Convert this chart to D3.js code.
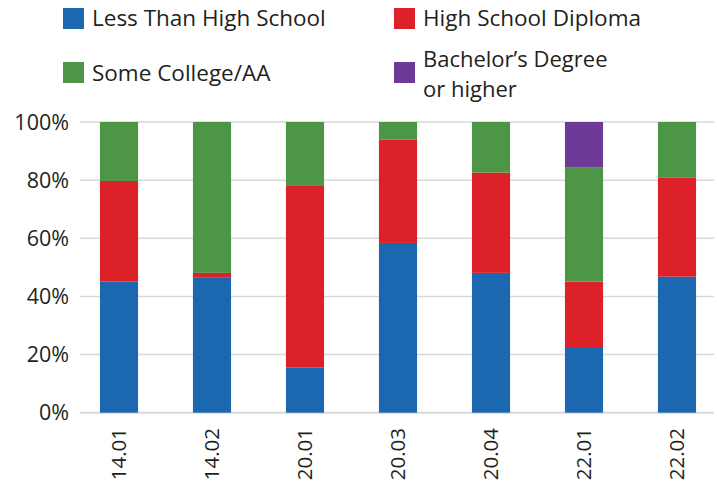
<!DOCTYPE html>
<html><head><meta charset="utf-8">
<script src="https://cdn.jsdelivr.net/npm/d3@7"></script>
<style>body{margin:0;background:#fff}svg{display:block}text{font-family:"Open Sans",sans-serif;fill:#231f20}</style>
</head><body>
<svg id="c" width="717" height="491"></svg>
<script>
const categories = ["14.01","14.02","20.01","20.03","20.04","22.01","22.02"];
const seriesNames = ["Less Than High School","High School Diploma","Some College/AA","Bachelor’s Degree or higher"];
const lessThanHS = [45.1, 46.4, 15.5, 58.4, 48.1, 22.6, 46.8];
const hsDiploma  = [34.6, 1.7, 62.5, 35.6, 34.5, 22.5, 34.0];
const someCollege= [20.3, 51.9, 22.0, 6.0, 17.4, 39.2, 19.2];
const bachelors  = [0, 0, 0, 0, 0, 15.7, 0];
const yTicks = [0, 20, 40, 60, 80, 100];
const colors = ["#1b68b1","#dc2128","#4c9645","#6f3997"];

const keys = ["a","b","c","d"];
const table = categories.map((c,i)=>({cat:c,a:lessThanHS[i],b:hsDiploma[i],c:someCollege[i],d:bachelors[i]}));
const stack = d3.stack().keys(keys)(table);

const svg = d3.select("#c");
const x = d3.scaleBand().domain(categories).range([72.5, 723.5]).paddingInner(0.59).paddingOuter(0.295);
const y = d3.scaleLinear().domain([0,100]).range([412.7, 122]);

// gridlines
svg.append("g").selectAll("line").data(yTicks).join("line")
  .attr("x1",80).attr("x2",714)
  .attr("y1",d=>y(d)).attr("y2",d=>y(d))
  .attr("stroke","#d9d9d9").attr("stroke-width",d=>d===0?2:1.5);

// y labels
svg.append("g").selectAll("text").data(yTicks).join("text")
  .attr("x",69).attr("y",d=>y(d)).attr("dy","0.36em")
  .attr("text-anchor","end").style("font-size","21.5px")
  .text(d=>d+"%");

// bars
svg.append("g").selectAll("g").data(stack).join("g")
  .attr("fill",(d,i)=>colors[i])
  .selectAll("rect").data(d=>d).join("rect")
  .attr("x",d=>x(d.data.cat)).attr("width",x.bandwidth())
  .attr("y",d=>y(d[1])).attr("height",d=>Math.max(0,y(d[0])-y(d[1])));

// x labels
svg.append("g").selectAll("text").data(categories).join("text")
  .attr("transform",d=>`translate(${x(d)+x.bandwidth()/2+6.5},428) rotate(-90)`)
  .attr("text-anchor","end").style("font-size","20.5px")
  .text(d=>d);

// legend
const leg = [
  {i:0,x:63,y:8,lines:[seriesNames[0]],ty:[26.3],fs:22.5},
  {i:1,x:394,y:8,lines:[seriesNames[1]],ty:[26.3],fs:22.5},
  {i:2,x:63,y:62,lines:[seriesNames[2]],ty:[80.7],fs:22.5},
  {i:3,x:394,y:62,lines:["Bachelor’s Degree","or higher"],ty:[66.5,96.6],fs:22}
];
const lg = svg.append("g");
leg.forEach(l=>{
  lg.append("rect").attr("x",l.x).attr("y",l.y).attr("width",21).attr("height",21).attr("fill",colors[l.i]);
  l.lines.forEach((s,j)=>lg.append("text").attr("x",l.x+29).attr("y",l.ty[j]).style("font-size",l.fs+"px").text(s));
});
</script>
</body></html>
